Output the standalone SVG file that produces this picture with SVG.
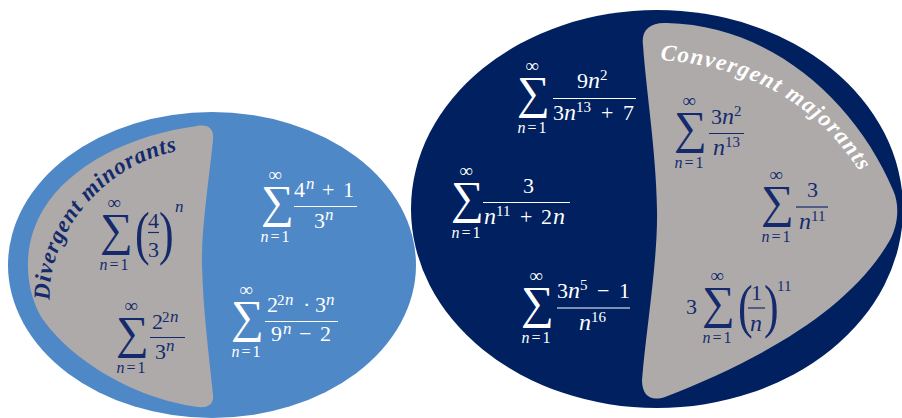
<svg xmlns="http://www.w3.org/2000/svg" xmlns:xlink="http://www.w3.org/1999/xlink" width="902" height="418" viewBox="0 0 902 418">
<style>
.bg{fill:#ffffff}
.lb{fill:#4f88c6}
.db{fill:#002060}
.gr{fill:#aeaaaa}
.w{fill:#ffffff}
.k{fill:#142a6c}
.lw{stroke:#ffffff;stroke-width:1.2}
.lk{stroke:#142a6c;stroke-width:1.2}
text{font-family:"Liberation Serif","DejaVu Serif",serif}
.f{font-size:22px}
.n{font-size:24px;font-style:italic}
.s{font-size:15px}
.sn{font-size:17px;font-style:italic}
.inf{font-size:19px;text-anchor:middle}
.lim{font-size:16px;text-anchor:middle}
.i{font-style:italic}
.sig{font-size:46px}
.par{font-size:44px}
.lab{font-size:23px;font-weight:bold;font-style:italic}
</style>
<defs>
<text id="sum" class="sig" transform="translate(0,-10) scale(1.0,1)">∑</text>
<text id="lp" class="par" transform="scale(1,1.35)">(</text>
<text id="rp" class="par" transform="scale(1,1.35)">)</text>
<path id="pl" d="M 50 302 C 45 245 95 165 182 150"/>
<path id="pr" d="M 658 60 Q 795 68 862 175"/>
</defs>
<rect class="bg" x="0" y="0" width="902" height="418"/>

<g id="divergent-set">
<ellipse class="lb" cx="212" cy="265" rx="204" ry="153"/>
<path id="divergent-minorants" class="gr" d="M 197 126 C 210 124 214 130 213 140 C 209 180 201 230 202 265 C 203 310 209 355 213 395 C 214 404 208 408 198 407 C 130 398 65 355 40 315 C 22 280 25 240 43 210 C 70 165 130 135 197 126 Z"/>
<text class="lab k"><textPath xlink:href="#pl" href="#pl" startOffset="2" textLength="212" lengthAdjust="spacing">Divergent minorants</textPath></text>
</g>

<g id="convergent-set">
<ellipse class="db" cx="657" cy="209" rx="246" ry="199"/>
<path id="convergent-majorants" class="gr" d="M 643 45 C 641 30 650 22 667 23 C 770 25 855 100 893 190 C 900 205 898 225 890 240 C 850 310 760 360 665 397 C 650 402 642 395 642 380 C 646 330 658 260 657 210 C 656 150 646 90 643 45 Z"/>
<text class="lab w"><textPath xlink:href="#pr" href="#pr" startOffset="2" textLength="238" lengthAdjust="spacing">Convergent majorants</textPath></text>
</g>

<g id="series-a" class="k">
<use href="#sum" xlink:href="#sum" x="100" y="255"/>
<text class="inf" x="114" y="209">∞</text>
<text class="lim" x="114" y="270" textLength="29" lengthAdjust="spacing"><tspan class="i">n</tspan>=1</text>
<use href="#lp" xlink:href="#lp" x="135" y="253"/>
<use href="#rp" xlink:href="#rp" x="159" y="253"/>
<text class="f" x="148" y="228">4</text>
<line class="lk" x1="148" y1="232.5" x2="159" y2="232.5"/>
<text class="f" x="148" y="257">3</text>
<text class="sn" x="175" y="212">n</text>
</g>

<g id="series-b" class="w">
<use href="#sum" xlink:href="#sum" x="261" y="227"/>
<text class="inf" x="275" y="181">∞</text>
<text class="lim" x="275" y="242" textLength="29" lengthAdjust="spacing"><tspan class="i">n</tspan>=1</text>
<text class="f" x="294" y="197">4</text>
<text class="sn" x="306" y="189">n</text>
<text class="f" x="322" y="197">+</text>
<text class="f" x="343" y="197">1</text>
<line class="lw" x1="294" y1="206.5" x2="357" y2="206.5"/>
<text class="f" x="314" y="228">3</text>
<text class="sn" x="325" y="220">n</text>
</g>

<g id="series-c" class="k">
<use href="#sum" xlink:href="#sum" x="116" y="358"/>
<text class="inf" x="131" y="312">∞</text>
<text class="lim" x="131" y="373" textLength="29" lengthAdjust="spacing"><tspan class="i">n</tspan>=1</text>
<text class="f" x="152" y="329">2</text>
<text class="s" x="162" y="322">2</text>
<text class="sn" x="170" y="322">n</text>
<line class="lk" x1="150" y1="337.5" x2="185" y2="337.5"/>
<text class="f" x="155" y="359">3</text>
<text class="sn" x="166" y="351">n</text>
</g>

<g id="series-d" class="w">
<use href="#sum" xlink:href="#sum" x="231" y="342"/>
<text class="inf" x="246" y="296">∞</text>
<text class="lim" x="246" y="357" textLength="29" lengthAdjust="spacing"><tspan class="i">n</tspan>=1</text>
<text class="f" x="267" y="312">2</text>
<text class="s" x="277" y="305">2</text>
<text class="sn" x="285" y="305">n</text>
<text class="f" x="303" y="312">·</text>
<text class="f" x="315" y="312">3</text>
<text class="sn" x="326" y="305">n</text>
<line class="lw" x1="265" y1="321.5" x2="338" y2="321.5"/>
<text class="f" x="271" y="341">9</text>
<text class="sn" x="283" y="334">n</text>
<text class="f" x="299" y="341">−</text>
<text class="f" x="320" y="341">2</text>
</g>

<g id="series-e" class="w">
<use href="#sum" xlink:href="#sum" x="517" y="118"/>
<text class="inf" x="532" y="72">∞</text>
<text class="lim" x="532" y="133" textLength="29" lengthAdjust="spacing"><tspan class="i">n</tspan>=1</text>
<text class="f" x="577" y="88">9</text>
<text class="n" x="588" y="88">n</text>
<text class="s" x="600" y="80">2</text>
<line class="lw" x1="553" y1="98.5" x2="636" y2="98.5"/>
<text class="f" x="553" y="120">3</text>
<text class="n" x="564" y="120">n</text>
<text class="s" x="576" y="112">13</text>
<text class="f" x="601" y="120">+</text>
<text class="f" x="623" y="120">7</text>
</g>

<g id="series-f" class="w">
<use href="#sum" xlink:href="#sum" x="451" y="223"/>
<text class="inf" x="466" y="177">∞</text>
<text class="lim" x="466" y="238" textLength="29" lengthAdjust="spacing"><tspan class="i">n</tspan>=1</text>
<text class="f" x="523" y="193">3</text>
<line class="lw" x1="483" y1="202.5" x2="570" y2="202.5"/>
<text class="n" x="484" y="224">n</text>
<text class="s" x="496" y="216">11</text>
<text class="f" x="520" y="224">+</text>
<text class="f" x="541" y="224">2</text>
<text class="n" x="553" y="224">n</text>
</g>

<g id="series-g" class="w">
<use href="#sum" xlink:href="#sum" x="521" y="328"/>
<text class="inf" x="536" y="282">∞</text>
<text class="lim" x="536" y="343" textLength="29" lengthAdjust="spacing"><tspan class="i">n</tspan>=1</text>
<text class="f" x="557" y="298">3</text>
<text class="n" x="568" y="298">n</text>
<text class="s" x="580" y="290">5</text>
<text class="f" x="597" y="298">−</text>
<text class="f" x="619" y="298">1</text>
<line class="lw" x1="557" y1="308" x2="630" y2="308"/>
<text class="n" x="579" y="330">n</text>
<text class="s" x="591" y="322">16</text>
</g>

<g id="series-h" class="k">
<use href="#sum" xlink:href="#sum" x="674" y="153"/>
<text class="inf" x="689" y="107">∞</text>
<text class="lim" x="689" y="168" textLength="29" lengthAdjust="spacing"><tspan class="i">n</tspan>=1</text>
<text class="f" x="711" y="124">3</text>
<text class="n" x="722" y="124">n</text>
<text class="s" x="734" y="116">2</text>
<line class="lk" x1="709" y1="133.5" x2="744" y2="133.5"/>
<text class="n" x="713" y="155">n</text>
<text class="s" x="725" y="147">13</text>
</g>

<g id="series-i" class="k">
<use href="#sum" xlink:href="#sum" x="761" y="227"/>
<text class="inf" x="776" y="181">∞</text>
<text class="lim" x="776" y="242" textLength="29" lengthAdjust="spacing"><tspan class="i">n</tspan>=1</text>
<text class="f" x="807" y="197">3</text>
<line class="lk" x1="796" y1="207" x2="828" y2="207"/>
<text class="n" x="799" y="229">n</text>
<text class="s" x="811" y="221">11</text>
</g>

<g id="series-j" class="k">
<text class="f" x="686" y="314">3</text>
<use href="#sum" xlink:href="#sum" x="702" y="328"/>
<text class="inf" x="717" y="282">∞</text>
<text class="lim" x="717" y="343" textLength="29" lengthAdjust="spacing"><tspan class="i">n</tspan>=1</text>
<use href="#lp" xlink:href="#lp" x="738" y="326"/>
<use href="#rp" xlink:href="#rp" x="764" y="326"/>
<text class="f" x="751" y="300">1</text>
<line class="lk" x1="748" y1="308" x2="765" y2="308"/>
<text class="n" x="750" y="331">n</text>
<text class="s" x="777" y="291">11</text>
</g>
</svg>
